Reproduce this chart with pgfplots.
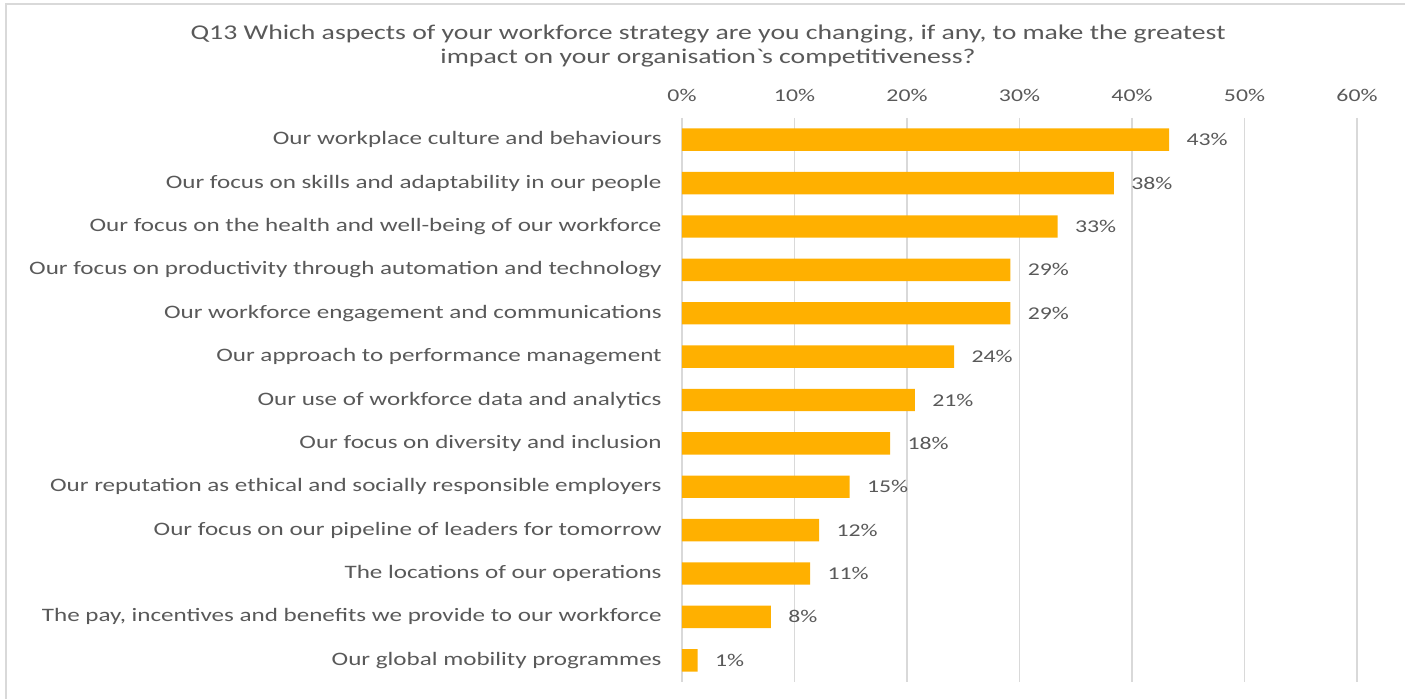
\documentclass[border=0pt]{standalone}
\usepackage{pgfplots}
\pgfplotsset{compat=1.18}
\usepackage{pgfplotstable}
\usepackage{fontspec}
\setmainfont{Carlito}[FakeStretch=1.32]
\definecolor{barc}{RGB}{255,176,0}
\definecolor{txt}{RGB}{89,89,89}
\definecolor{gridc}{RGB}{217,217,217}
\pgfplotstableread[col sep=comma]{
y,x,lab
0,43.3,43
1,38.4,38
2,33.4,33
3,29.2,29
4,29.2,29
5,24.2,24
6,20.7,21
7,18.5,18
8,14.9,15
9,12.2,12
10,11.4,11
11,7.9,8
12,1.4,1
}\datatable
\begin{document}
\begin{tikzpicture}[x=1pt,y=1pt]
\path[use as bounding box] (0,0) rectangle (702.5,-349.5);
\draw[gridc,line width=0.8pt] (3,-349.5) -- (3,-2) -- (702.5,-2);
\node[txt,font=\fontsize{10.5}{12}\selectfont,align=center] at (354,-23)
 {Q13 Which aspects of your workforce strategy are you changing, if any, to make the greatest\\impact on your organisation\textasciigrave s competitiveness?};
\begin{axis}[
  at={(341pt,-59pt)}, anchor=north west,
  scale only axis, width=337.5pt, height=282pt,
  xmin=0, xmax=60, ymin=-0.5, ymax=12.5,
  y dir=reverse,
  xbar, bar width=11.2pt,
  axis line style={draw=none},
  xmajorgrids=true, ymajorgrids=false,
  grid style={draw=gridc, line width=0.8pt},
  xtick={0,10,20,30,40,50,60},
  xticklabels={0\%,10\%,20\%,30\%,40\%,50\%,60\%},
  xticklabel pos=upper,
  xticklabel style={anchor=base, inner sep=0pt, yshift=8pt, text=txt, font=\fontsize{9}{11}\selectfont},
  ytick={0,...,12},
  yticklabels={
    Our workplace culture and behaviours,
    Our focus on skills and adaptability in our people,
    Our focus on the health and well-being of our workforce,
    Our focus on productivity through automation and technology,
    Our workforce engagement and communications,
    Our approach to performance management,
    Our use of workforce data and analytics,
    Our focus on diversity and inclusion,
    Our reputation as ethical and socially responsible employers,
    Our focus on our pipeline of leaders for tomorrow,
    The locations of our operations,
    {The pay, incentives and benefits we provide to our workforce},
    Our global mobility programmes},
  yticklabel style={anchor=east, inner sep=0pt, xshift=-10pt, text=txt, font=\fontsize{9.5}{11}\selectfont},
  major tick length=0pt,
  nodes near coords={\pgfplotspointmeta\%},
  point meta=explicit symbolic,
  every node near coord/.append style={anchor=west, inner sep=0pt, xshift=8.5pt, text=txt, font=\fontsize{9}{11}\selectfont},
  clip=false,
]
\addplot[fill=barc, draw=none] table[x=x, y=y, meta=lab] {\datatable};
\end{axis}
\end{tikzpicture}
\end{document}
